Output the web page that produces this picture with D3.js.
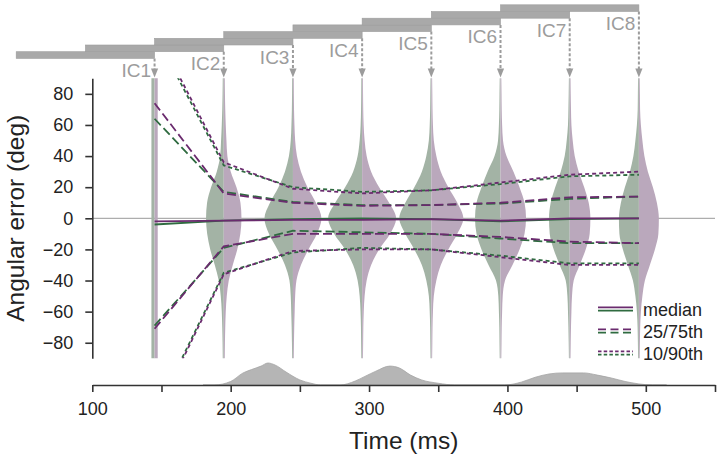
<!DOCTYPE html>
<html>
<head>
<meta charset="utf-8">
<script src="https://cdn.jsdelivr.net/npm/d3@7"></script>
<style>
body { margin: 0; background: #fff; font-family: 'Liberation Sans', Arial, sans-serif; }
</style>
</head>
<body>
<div id="chart"></div>
<script>

// ---- data ----
var icLabels = ["IC1", "IC2", "IC3", "IC4", "IC5", "IC6", "IC7", "IC8"];
var icTimes = [145, 195, 245, 295, 345, 395, 445, 495];   // ms
var windowLen = 100;                                      // ms, grey bars on top

var angles = [-90, -80, -70, -60, -50, -40, -30, -20, -10, 0, 10, 20, 30, 40, 50, 60, 70, 80, 90];
// violin densities (arbitrary units), one row per IC, ordered like angles
var violinDens = [
  [9, 9, 9, 9, 9, 9, 9, 9, 9, 9, 9, 9, 9, 9, 9, 9, 9, 9, 9],
  [2.9, 3.4, 4.3, 5.7, 8.6, 14.3, 25.7, 38.6, 47.4, 50.6, 47.7, 36.3, 20, 10.3, 7.7, 5.7, 4.3, 3.4, 2.9],
  [2.3, 2.9, 3.7, 4.9, 6.3, 10, 22.9, 44.3, 68.6, 81.4, 65.7, 41.4, 22.9, 11.4, 6.3, 4.3, 3.1, 2.6, 2.3],
  [2.3, 2.9, 3.4, 4.6, 7.1, 12.9, 25.7, 48.6, 80, 97.1, 77.1, 48.6, 25.7, 12.9, 7.1, 4.3, 3.1, 2.6, 2.3],
  [2.3, 2.9, 3.4, 4.6, 7.1, 14.3, 27.1, 48.6, 74.3, 91.4, 74.3, 48.6, 27.1, 14.3, 7.1, 4.6, 3.4, 2.9, 2.3],
  [2.3, 2.9, 3.4, 4.6, 6.3, 12.9, 34.3, 54.3, 68.6, 72.9, 68.6, 54.3, 37.1, 17.1, 7.1, 4.6, 3.4, 2.9, 2.3],
  [2.3, 2.9, 3.7, 4.9, 6.6, 11.4, 28.6, 45.7, 57.1, 59.1, 54.3, 41.4, 25.7, 14.3, 8.6, 4.9, 3.7, 2.9, 2.3],
  [2.3, 2.9, 3.7, 5.7, 10, 17.1, 31.4, 45.7, 55.7, 57.1, 51.4, 40, 25.7, 15.7, 10, 5.7, 3.4, 2.9, 2.3]
];

// percentile lines (deg), green and purple groups
var medGreen = [-4, -1.5, -0.5, 0, -0.5, -2, -0.5, 0];
var medPurple = [-2, -1.5, -1, -1, -0.5, -1.5, 0, 0];
var q75Green = [64, 17, 10.5, 8.5, 8.5, 9.5, 12.5, 14];
var q75Purple = [74, 16, 10, 8, 8.5, 10, 13.5, 14];
var q25Green = [-69, -19, -8, -9, -10, -13, -16, -16];
var q25Purple = [-71, -18, -10, -10, -10, -12, -15, -16];
var q90Green = [119, 34, 20, 17, 18, 22, 27, 28];
var q90Purple = [122, 36, 19, 16, 18, 23, 28, 30];
var q10Green = [-126, -35, -22, -19, -20, -24, -29, -29];
var q10Purple = [-128, -36, -21, -20, -20, -25, -30, -30];

// response time density under the axis (relative)
var rtTimes = [180, 188, 200, 209, 215, 222, 227, 232, 240, 250, 258, 265, 279, 290, 297, 305, 315, 322, 330, 338, 350, 362,
               398, 410, 420, 430, 440, 455, 465, 475, 485, 495, 505, 515];
var rtDens = [0, 0, 16, 55, 70, 86, 100, 91, 59, 23, 8, 0, 0, 18, 39, 63, 86, 77, 45, 23, 8, 0,
              0, 13, 35, 50, 55, 55, 45, 32, 16, 5, 0, 0];

var xTicks = [100, 150, 200, 250, 300, 350, 400, 450, 500, 550];
var xTickLabels = ["100", "", "200", "", "300", "", "400", "", "500", ""];
var yTicks = [-80, -60, -40, -20, 0, 20, 40, 60, 80];
var legendLabels = ["median", "25/75th", "10/90th"];

// ---- drawing ----
var green = "#2f6b40", purple = "#6a2b6e";
var violinGreen = "#a3b3a5", violinPurple = "#baa8bc";
var icGrey = "#9c9c9c";

var svg = d3.select("#chart").append("svg").attr("width", 720).attr("height", 458);

var x = d3.scaleLinear().domain([100, 550]).range([92.3, 715]);
var y = d3.scaleLinear().domain([-90, 90]).range([358.3, 78.3]);
var w = d3.scaleLinear().domain([0, 100]).range([0, 35]);
var rtY = d3.scaleLinear().domain([0, 100]).range([385, 363]);

svg.append("defs").append("clipPath").attr("id", "plotclip")
  .append("rect").attr("x", 92).attr("y", y(90)).attr("width", 628).attr("height", y(-90) - y(90));

// top staircase of analysis windows
var stepH = 6.7;
icTimes.forEach(function(t, i) {
  var yTop = 51.7 - stepH * i;
  svg.append("rect")
    .attr("x", x(t - windowLen)).attr("y", yTop)
    .attr("width", x(t) - x(t - windowLen)).attr("height", stepH)
    .style("fill", "#a9a9a9").style("stroke", "#9d9d9d").style("stroke-width", 0.6);
  var yBot = yTop + stepH;
  svg.append("line")
    .attr("x1", x(t)).attr("x2", x(t)).attr("y1", yBot).attr("y2", 69)
    .style("stroke", icGrey).style("stroke-width", 2).style("stroke-dasharray", "3,2");
  svg.append("path")
    .attr("d", "M" + (x(t) - 3.6) + ",68.5L" + (x(t) + 3.6) + ",68.5L" + x(t) + ",77.5Z")
    .style("fill", icGrey);
  svg.append("text")
    .attr("x", x(t) - 3.5).attr("y", yBot + 18.5)
    .attr("text-anchor", "end")
    .style("font-size", "19px").style("fill", icGrey)
    .text(icLabels[i]);
});

// zero line
svg.append("line")
  .attr("x1", x(100)).attr("x2", x(550)).attr("y1", y(0)).attr("y2", y(0))
  .style("stroke", "#999").style("stroke-width", 1);

// violins
var halfLeft = d3.area().curve(d3.curveMonotoneY)
  .y(function(d) { return y(d.a); })
  .x0(function(d) { return d.cx - w(d.v); })
  .x1(function(d) { return d.cx; });
var halfRight = d3.area().curve(d3.curveMonotoneY)
  .y(function(d) { return y(d.a); })
  .x0(function(d) { return d.cx; })
  .x1(function(d) { return d.cx + w(d.v); });

var vg = svg.append("g");
icTimes.forEach(function(t, i) {
  var pts = angles.map(function(a, j) { return { a: a, v: violinDens[i][j], cx: x(t) }; });
  vg.append("path").attr("d", halfLeft(pts)).style("fill", violinGreen);
  vg.append("path").attr("d", halfRight(pts)).style("fill", violinPurple);
});

// percentile lines
var lineGen = d3.line()
  .x(function(d, i) { return x(icTimes[i]); })
  .y(function(d) { return y(d); });

var lg = svg.append("g").attr("clip-path", "url(#plotclip)");
var series = [
  { v: q90Green, c: green, dash: "4,3" }, { v: q90Purple, c: purple, dash: "4,3" },
  { v: q10Green, c: green, dash: "4,3" }, { v: q10Purple, c: purple, dash: "4,3" },
  { v: q75Green, c: green, dash: "9,4" }, { v: q75Purple, c: purple, dash: "9,4" },
  { v: q25Green, c: green, dash: "9,4" }, { v: q25Purple, c: purple, dash: "9,4" },
  { v: medGreen, c: green, dash: null }, { v: medPurple, c: purple, dash: null }
];
series.forEach(function(s) {
  lg.append("path").attr("d", lineGen(s.v))
    .style("fill", "none").style("stroke", s.c).style("stroke-width", 1.8)
    .style("stroke-dasharray", s.dash);
});

// response time density
var rtArea = d3.area().curve(d3.curveMonotoneX)
  .x(function(d, i) { return x(rtTimes[i]); })
  .y0(rtY(0))
  .y1(function(d) { return rtY(d); });
svg.append("path").attr("d", rtArea(rtDens))
  .style("fill", "#b5b5b5").style("stroke", "#a5a5a5").style("stroke-width", 0.8);

// x axis
var xAxis = svg.append("g").attr("transform", "translate(0,385)")
  .call(d3.axisBottom(x).tickValues(xTicks).tickSize(7).tickSizeOuter(0)
    .tickFormat(function(d, i) { return xTickLabels[i]; }));
xAxis.select(".domain").style("stroke", "#333").style("stroke-width", 1.6);
xAxis.selectAll(".tick line").style("stroke", "#333").style("stroke-width", 1.6);
xAxis.selectAll(".tick text").attr("dy", "1.1em")
  .style("font-size", "18px").style("font-family", "'Liberation Sans', Arial, sans-serif").style("fill", "#222");

svg.append("text").attr("x", (x(100) + x(550)) / 2).attr("y", 449)
  .attr("text-anchor", "middle").style("font-size", "24.5px").style("fill", "#222")
  .text("Time (ms)");

// y axis
var yAxis = svg.append("g").attr("transform", "translate(92.3,0)")
  .call(d3.axisLeft(y).tickValues(yTicks).tickSize(7).tickSizeOuter(0).tickPadding(12));
yAxis.select(".domain").style("stroke", "#333").style("stroke-width", 1.6);
yAxis.selectAll(".tick line").style("stroke", "#333").style("stroke-width", 1.6);
yAxis.selectAll(".tick text")
  .style("font-size", "18px").style("font-family", "'Liberation Sans', Arial, sans-serif").style("fill", "#222");

svg.append("text")
  .attr("transform", "translate(24," + y(0) + ") rotate(-90)")
  .attr("text-anchor", "middle").style("font-size", "24.5px").style("fill", "#222")
  .text("Angular error (deg)");

// legend
var legDash = [null, "8,4.5", "3.5,2.2"];
legendLabels.forEach(function(lab, i) {
  var cy = 309 + 22 * i;
  svg.append("line").attr("x1", 598).attr("x2", 633).attr("y1", cy - 1.6).attr("y2", cy - 1.6)
    .style("stroke", purple).style("stroke-width", 1.8).style("stroke-dasharray", legDash[i]);
  svg.append("line").attr("x1", 598).attr("x2", 633).attr("y1", cy + 1.6).attr("y2", cy + 1.6)
    .style("stroke", green).style("stroke-width", 1.8).style("stroke-dasharray", legDash[i]);
  svg.append("text").attr("x", 643).attr("y", cy + 6.5)
    .style("font-size", "18px").style("fill", "#222")
    .text(lab);
});

</script>
</body>
</html>
